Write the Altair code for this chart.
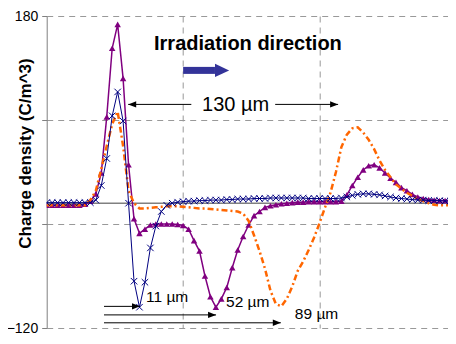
import altair as alt
import pandas as pd

# x positions of the samples (µm)
x_um = list(range(0, 228, 3))

# purple series (triangle markers)
purple = [-2, -2, -2, -2, -2, -2, -2, -1, 2, 9,
          29, 83, 149, 172, 120, 37, -15, -29, -25, -21,
          -20, -20, -20, -20, -20.5, -21.5, -25, -36, -46, -70,
          -90, -100, -92, -81, -62, -45, -32, -21, -12, -8,
          -4, -2.5, -1.5, -0.5, 0, 0.5, 1, 1, 1.5, 1.5,
          1.5, 1.5, 1.5, 1.5, 2, 8, 17, 25, 32, 36,
          37, 34, 29, 24, 20, 15, 12, 8.5, 6, 4.5,
          3.5, 3, 2.5, 2.5, 2.5, 2.5]

# blue series (x markers)
blue = [0.5, 0.5, 0.5, 0.5, 0.5, 0.5, 0.5, 0.5, 0.5, 3,
        17, 43, 84, 107, 79, 0, -75, -100, -76, -43,
        -22, -8, -2, 0, 1, 1.5, 2, 2, 2.5, 2.5,
        3, 3, 3, 3.5, 3.5, 4, 4, 4, 4.5, 4.5,
        4.5, 5, 5, 5, 5, 5, 5, 5, 4.5, 4.5,
        4.5, 4.5, 4.5, 4.5, 5, 6, 7.5, 8.5, 9, 9,
        8.5, 8, 7, 6, 5, 4.5, 4, 3.5, 3, 3,
        2.5, 2.5, 2.5, 2, 2, 2]

# orange series (dashed line)
orange = [-2, -2, -2, -2, -2, -2, -2, -2, 3, 12,
          33, 55, 76, 88, 55, 12, 0, -5, -5, -4.5,
          -4, -3.5, -3, -3, -3, -3.5, -4, -4.5, -5, -5,
          -5.5, -6, -6.5, -7, -7.5, -8, -10, -17, -31, -46,
          -63, -84, -97, -99, -92, -80, -65, -56, -45, -33,
          -19, -4, 10, 30, 54, 66, 72, 73, 68, 61,
          52, 41, 32, 25, 18, 14, 10, 7, 4, 2,
          0, -1.5, -2, -2, -2, -2]

series_names = ["purple", "blue", "orange"]

rows = []
for name, vals in zip(series_names, [purple, blue, orange]):
    for xv, yv in zip(x_um, vals):
        rows.append({"x": xv, "y": yv, "series": name})
df = pd.DataFrame(rows)

# annotation texts and positions (data units)
ann_text = ["Irradiation direction", "130 µm", "11 µm", "52 µm", "89 µm"]
ann_x = [59, 85.4, 54.6, 98.6, 136.4]
ann_y = [147.3, 88.4, -95.4, -100.1, -110.9]
ann_size = [20, 20, 15.5, 15.5, 15.5]
ann_weight = ["bold", "normal", "normal", "normal", "normal"]

# black arrow segments
seg_x = [44.8, 125.6, 31.5, 31.5, 31.5]
seg_x2 = [79.5, 160.2, 51.3, 93.1, 128.7]
seg_y = [95, 95, -99.2, -107.4, -115]
# arrow heads (tips)
head_x = [44.8, 160.2, 51.3, 93.1, 128.7]
head_y = [95, 95, -99.2, -107.4, -115]
head_dir = ["left", "right", "right", "right", "right"]

# blue irradiation arrow
irr_x = [75]
irr_x2 = [92.5]
irr_tip = [100.3]
irr_y = [127.7]

FONT = "Liberation Sans"

X = alt.X("x:Q", scale=alt.Scale(domain=[0, 220.6], nice=False, zero=False),
          axis=alt.Axis(values=[75, 150], grid=True, gridDash=[6, 5], gridColor="#999999",
                        labels=False, ticks=False, domain=False, title=None))
X2 = alt.X2("x2:Q")
Y = alt.Y("y:Q", scale=alt.Scale(domain=[-120, 180], nice=False, zero=False),
          axis=alt.Axis(values=[180, 80, -20, -120],
                        labelExpr="datum.value == 180 || datum.value == -120 ? datum.label : ''",
                        grid=True, gridDash=[6, 5], gridColor="#999999",
                        domainColor="#808080", tickColor="#808080", tickSize=5,
                        labelFont=FONT, labelFontSize=14, labelPadding=4, labelColor="#000000",
                        title="Charge density (C/m^3)", titleFont=FONT, titleFontSize=17,
                        titleFontWeight="bold", titleColor="#000000", titleAngle=-90,
                        titleX=-16.5, titleY=137, titleBaseline="alphabetic", titleAlign="center"))

base = alt.Chart(df)

zero = alt.Chart(pd.DataFrame({"y": [0]})).mark_rule(color="#808080", strokeWidth=1.5).encode(y=Y)

p_line = base.transform_filter("datum.series == 'purple'").mark_line(
    color="#800080", strokeWidth=1.5, clip=True).encode(x=X, y=Y)
p_pts = base.transform_filter("datum.series == 'purple'").mark_point(
    shape="triangle-up", filled=True, size=42, color="#800080", opacity=1, clip=True).encode(x=X, y=Y)

o_line = base.transform_filter("datum.series == 'orange'").mark_line(
    color="#FF6600", strokeWidth=2.5, strokeDash=[6, 3, 2, 3], clip=True).encode(x=X, y=Y)

b_line = base.transform_filter("datum.series == 'blue'").mark_line(
    color="#000080", strokeWidth=1, clip=True).encode(x=X, y=Y)
b_pts = base.transform_filter("datum.series == 'blue'").mark_point(
    shape="M-1,-1L1,1M-1,1L1,-1", filled=False, size=42, strokeWidth=1,
    color="#000080", opacity=1, clip=True).encode(x=X, y=Y)

ann_df = pd.DataFrame({"x": ann_x, "y": ann_y, "t": ann_text, "s": ann_size, "w": ann_weight})
texts = []
for i in range(len(ann_text)):
    texts.append(
        alt.Chart(ann_df.iloc[[i]]).mark_text(
            align="left", baseline="alphabetic", font=FONT, fontSize=ann_size[i],
            fontWeight=ann_weight[i], color="#000000").encode(x=X, y=Y, text="t:N"))

seg_df = pd.DataFrame({"x": seg_x, "x2": seg_x2, "y": seg_y})
segs = alt.Chart(seg_df).mark_rule(color="#000000", strokeWidth=1).encode(x=X, x2=X2, y=Y)

head_df = pd.DataFrame({"x": head_x, "y": head_y, "d": head_dir})
heads_r = alt.Chart(head_df).transform_filter("datum.d == 'right'").mark_point(
    shape="M0,0L-2,-0.8L-2,0.8Z", filled=True, size=64, color="#000000", opacity=1).encode(x=X, y=Y)
heads_l = alt.Chart(head_df).transform_filter("datum.d == 'left'").mark_point(
    shape="M0,0L2,-0.8L2,0.8Z", filled=True, size=64, color="#000000", opacity=1).encode(x=X, y=Y)

irr_df = pd.DataFrame({"x": irr_x, "x2": irr_x2, "y": irr_y})
irr_shaft = alt.Chart(irr_df).mark_rule(color="#333399", strokeWidth=7).encode(x=X, x2=X2, y=Y)
irr_head = alt.Chart(pd.DataFrame({"x": irr_tip, "y": irr_y})).mark_point(
    shape="M0,0L-2,-0.95L-2,0.95Z", filled=True, size=200, color="#333399", opacity=1).encode(x=X, y=Y)

chart = alt.layer(
    zero, p_line, p_pts, o_line, b_line, b_pts,
    segs, heads_r, heads_l, irr_shaft, irr_head, *texts
).properties(
    width=401.3, height=312,
    autosize=alt.AutoSizeParams(type="none"),
    padding={"left": 38.7, "top": 8, "right": 0, "bottom": 8},
    background="white",
).configure_view(stroke=None)

chart.save("out.html", embed_options={"renderer": "svg", "actions": False})
